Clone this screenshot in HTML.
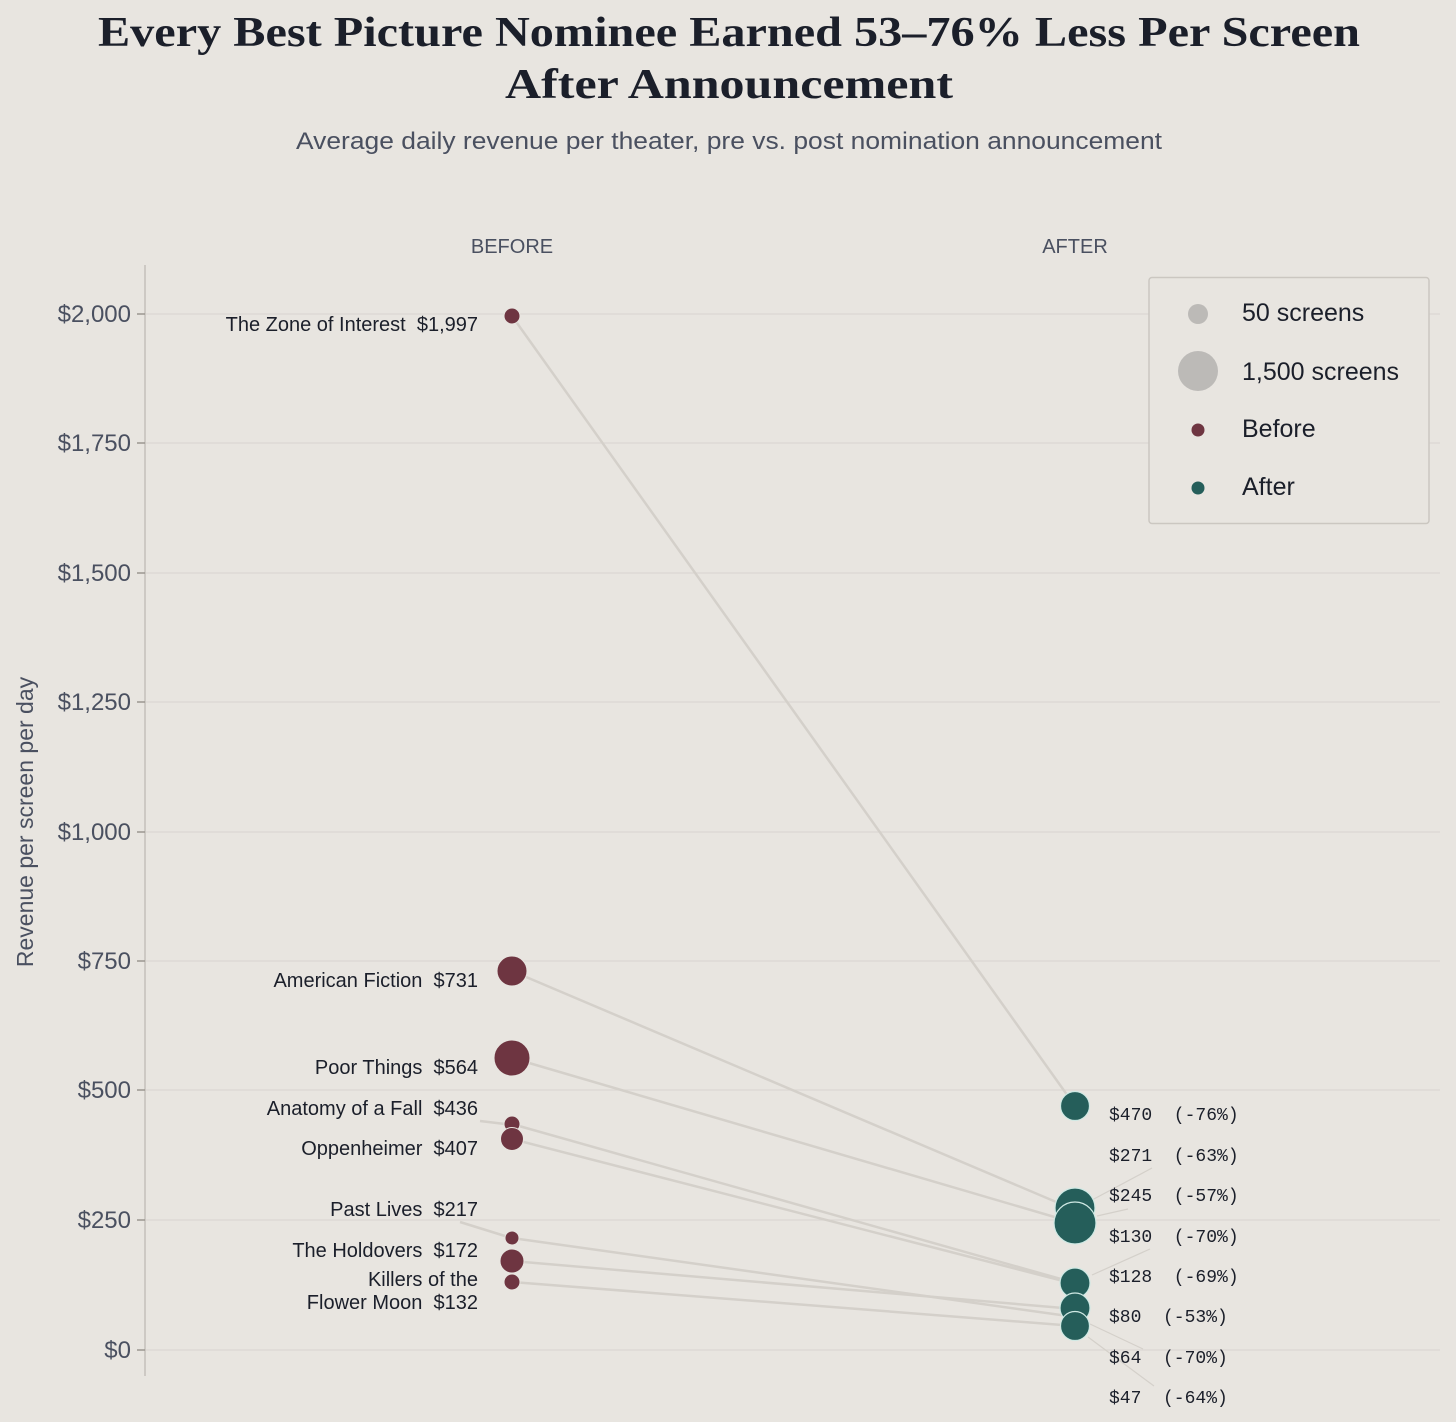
<!DOCTYPE html>
<html><head><meta charset="utf-8"><style>
html,body{margin:0;padding:0;background:#e8e5e0;}
svg{display:block;}
</style></head><body>
<svg width="1456" height="1422" viewBox="0 0 1456 1422" xmlns="http://www.w3.org/2000/svg" font-family="'Liberation Sans', sans-serif">
<rect width="1456" height="1422" fill="#e8e5e0"/>
<text x="729" y="46" text-anchor="middle" font-family="'Liberation Serif', serif" font-weight="bold" font-size="42" fill="#1b1f2a" textLength="1262" lengthAdjust="spacingAndGlyphs">Every Best Picture Nominee Earned 53–76% Less Per Screen</text>
<text x="729" y="98" text-anchor="middle" font-family="'Liberation Serif', serif" font-weight="bold" font-size="42" fill="#1b1f2a" textLength="448" lengthAdjust="spacingAndGlyphs">After Announcement</text>
<text x="729" y="149" text-anchor="middle" font-size="24" fill="#4a5060" textLength="866" lengthAdjust="spacingAndGlyphs">Average daily revenue per theater, pre vs. post nomination announcement</text>
<text x="512" y="253" text-anchor="middle" font-size="20" fill="#4a5060">BEFORE</text>
<text x="1075" y="253" text-anchor="middle" font-size="20" fill="#4a5060">AFTER</text>
<g stroke="#dcd8d2" stroke-width="1.3">
<line x1="145" y1="314" x2="1440" y2="314"/><line x1="145" y1="443" x2="1440" y2="443"/><line x1="145" y1="573" x2="1440" y2="573"/><line x1="145" y1="702" x2="1440" y2="702"/><line x1="145" y1="832" x2="1440" y2="832"/><line x1="145" y1="961" x2="1440" y2="961"/><line x1="145" y1="1090" x2="1440" y2="1090"/><line x1="145" y1="1220" x2="1440" y2="1220"/><line x1="145" y1="1350" x2="1440" y2="1350"/>
</g>
<line x1="145" y1="265" x2="145" y2="1376" stroke="#c4c0ba" stroke-width="1.5"/>
<g stroke="#9a9690" stroke-width="1.5">
<line x1="137" y1="314" x2="145" y2="314"/><line x1="137" y1="443" x2="145" y2="443"/><line x1="137" y1="573" x2="145" y2="573"/><line x1="137" y1="702" x2="145" y2="702"/><line x1="137" y1="832" x2="145" y2="832"/><line x1="137" y1="961" x2="145" y2="961"/><line x1="137" y1="1090" x2="145" y2="1090"/><line x1="137" y1="1220" x2="145" y2="1220"/><line x1="137" y1="1350" x2="145" y2="1350"/>
</g>
<g font-size="24" fill="#4a5060" text-anchor="end">
<text x="131" y="322">$2,000</text><text x="131" y="451">$1,750</text><text x="131" y="581">$1,500</text><text x="131" y="710">$1,250</text><text x="131" y="840">$1,000</text><text x="131" y="969">$750</text><text x="131" y="1098">$500</text><text x="131" y="1228">$250</text><text x="131" y="1358">$0</text>
</g>
<text transform="translate(33,822) rotate(-90)" text-anchor="middle" font-size="23" fill="#4a5060">Revenue per screen per day</text>
<g stroke="#d4d0ca" stroke-width="2.5" fill="none">
<line x1="512" y1="316" x2="1075" y2="1106"/>
<line x1="512" y1="971" x2="1075" y2="1210"/>
<line x1="512" y1="1058" x2="1075" y2="1223"/>
<line x1="512" y1="1124" x2="1075" y2="1283"/>
<line x1="512" y1="1139" x2="1075" y2="1284"/>
<line x1="512" y1="1238" x2="1075" y2="1317"/>
<line x1="512" y1="1261" x2="1075" y2="1309"/>
<line x1="512" y1="1282" x2="1075" y2="1326"/>
<line x1="480" y1="1121" x2="505" y2="1124"/>
<line x1="460" y1="1222" x2="505" y2="1236"/>
</g>
<g stroke="#d4d0ca" stroke-width="1.2">
<line x1="1092" y1="1200" x2="1152" y2="1168"/>
<line x1="1097" y1="1216" x2="1128" y2="1209"/>
<line x1="1092" y1="1275" x2="1150" y2="1249"/>
<line x1="1090" y1="1324" x2="1143" y2="1349"/>
<line x1="1088" y1="1337" x2="1154" y2="1386"/>
</g>
<g fill="#6e3541" stroke="#e8e5e0" stroke-width="1">
<circle cx="512" cy="316" r="8"/>
<circle cx="512" cy="971" r="15"/>
<circle cx="512" cy="1058" r="18"/>
<circle cx="512" cy="1124" r="8"/>
<circle cx="512" cy="1139" r="11.5"/>
<circle cx="512" cy="1238" r="7"/>
<circle cx="512" cy="1261" r="12"/>
<circle cx="512" cy="1282" r="8"/>
</g>
<g fill="#255e5a" stroke="#cfe9e4" stroke-width="1.2">
<circle cx="1075" cy="1106" r="14.5"/>
<circle cx="1075" cy="1208" r="20"/>
<circle cx="1075" cy="1223" r="21"/>
<circle cx="1075" cy="1283" r="15"/>
<circle cx="1075" cy="1308" r="15"/>
<circle cx="1075" cy="1326" r="14.5"/>
</g>
<g font-size="20" fill="#1b1f2a" text-anchor="end">
<text x="478" y="331">The Zone of Interest&#160; $1,997</text>
<text x="478" y="987">American Fiction&#160; $731</text>
<text x="478" y="1074">Poor Things&#160; $564</text>
<text x="478" y="1115">Anatomy of a Fall&#160; $436</text>
<text x="478" y="1155">Oppenheimer&#160; $407</text>
<text x="478" y="1216">Past Lives&#160; $217</text>
<text x="478" y="1257">The Holdovers&#160; $172</text>
<text x="478" y="1286">Killers of the</text>
<text x="478" y="1309">Flower Moon&#160; $132</text>
</g>
<g font-family="'Liberation Mono', monospace" font-size="18" fill="#1b1f2a">
<text x="1109" y="1120">$470&#160;&#160;(-76%)</text>
<text x="1109" y="1161">$271&#160;&#160;(-63%)</text>
<text x="1109" y="1201">$245&#160;&#160;(-57%)</text>
<text x="1109" y="1242">$130&#160;&#160;(-70%)</text>
<text x="1109" y="1282">$128&#160;&#160;(-69%)</text>
<text x="1109" y="1322">$80&#160;&#160;(-53%)</text>
<text x="1109" y="1363">$64&#160;&#160;(-70%)</text>
<text x="1109" y="1403">$47&#160;&#160;(-64%)</text>
</g>
<rect x="1149" y="277.5" width="280" height="246" rx="3" fill="#e8e5e0" stroke="#cbc7c1" stroke-width="1.5"/>
<circle cx="1198" cy="314" r="10" fill="#bcbab7"/>
<circle cx="1198" cy="371" r="20" fill="#bcbab7"/>
<circle cx="1198" cy="430" r="6.5" fill="#6e3541"/>
<circle cx="1198" cy="488" r="6.5" fill="#255e5a"/>
<g font-size="25" fill="#1b1f2a">
<text x="1242" y="321">50 screens</text>
<text x="1242" y="380">1,500 screens</text>
<text x="1242" y="437">Before</text>
<text x="1242" y="495">After</text>
</g>
</svg>
</body></html>
